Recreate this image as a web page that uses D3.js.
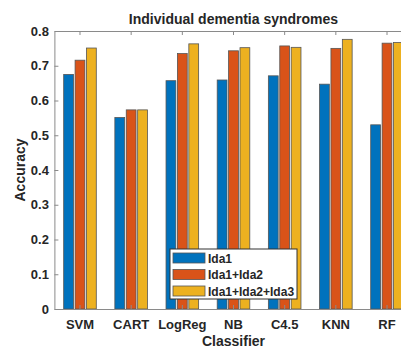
<!DOCTYPE html>
<html><head><meta charset="utf-8">
<script src="https://cdn.jsdelivr.net/npm/d3@7"></script>
<style>
html,body{margin:0;padding:0;background:#fff;overflow:hidden;}
text{font-family:"Liberation Sans",Arial,sans-serif;font-weight:bold;fill:#262626;}
</style></head>
<body><svg id="c" width="401" height="350"></svg>
<script>
const categories = ["SVM","CART","LogReg","NB","C4.5","KNN","RF"];
const seriesNames = ["Ida1","Ida1+Ida2","Ida1+Ida2+Ida3"];
const ida1 = [0.675,0.551,0.657,0.659,0.671,0.647,0.530];
const ida12 = [0.716,0.573,0.735,0.743,0.757,0.750,0.765];
const ida123 = [0.751,0.573,0.763,0.752,0.753,0.776,0.767];
const yTicks = [0,0.1,0.2,0.3,0.4,0.5,0.6,0.7,0.8];
const colors = ["#0072BD","#D95319","#EDB120"];
const series = [ida1, ida12, ida123];

const svg = d3.select("#c");
const L = 54.4, R = 412.6, T = 31, B = 309;

const x = d3.scaleBand().domain(categories).range([L, R]).paddingInner(0).paddingOuter(0);
const xs = d3.scaleBand().domain(d3.range(3)).range([-17.1, 17.1]).paddingInner(0.14).paddingOuter(0.07);
const y = d3.scaleLinear().domain([0, 0.8]).range([B, T]);

// bars
series.forEach((vals, si) => {
  svg.append("g").selectAll("rect").data(vals).join("rect")
    .attr("x", (d, i) => x(categories[i]) + x.bandwidth()/2 + xs(si))
    .attr("width", xs.bandwidth())
    .attr("y", d => y(d))
    .attr("height", d => y(0) - y(d))
    .attr("fill", colors[si])
    .attr("stroke", "#555")
    .attr("stroke-width", 0.8);
});

// axes
const axisColor = "#8a8a8a";
const yAxis = svg.append("g").attr("transform", `translate(${L},0)`)
  .call(d3.axisLeft(y).tickValues(yTicks).tickFormat(d => d === 0 ? "0" : d3.format(".1f")(d)).tickSizeInner(-4).tickSizeOuter(0).tickPadding(5.5));
yAxis.selectAll("text").style("font-size", "13px");
const xAxis = svg.append("g").attr("transform", `translate(0,${B})`)
  .call(d3.axisBottom(x).tickSizeInner(-4).tickSizeOuter(0).tickPadding(11));
xAxis.selectAll("text").style("font-size", "13px");
const xTop = svg.append("g").attr("transform", `translate(0,${T})`)
  .call(d3.axisTop(x).tickSizeInner(-4).tickSizeOuter(0).tickFormat(""));
[yAxis, xAxis, xTop].forEach(g => {
  g.selectAll("path").attr("stroke", axisColor).attr("stroke-width", 1);
  g.selectAll("line").attr("stroke", axisColor);
});
svg.append("line").attr("x1", R).attr("x2", R).attr("y1", T).attr("y2", B).attr("stroke", axisColor);

// title and labels
svg.append("text").attr("x", (L + R) / 2).attr("y", 24).attr("text-anchor", "middle")
  .style("font-size", "14px").text("Individual dementia syndromes");
svg.append("text").attr("x", (L + R) / 2).attr("y", 346).attr("text-anchor", "middle")
  .style("font-size", "14px").text("Classifier");
svg.append("text").attr("transform", `translate(25,${(T + B) / 2}) rotate(-90)`).attr("text-anchor", "middle")
  .style("font-size", "14px").text("Accuracy");

// legend
const lg = svg.append("g").attr("transform", "translate(170,249)");
lg.append("rect").attr("width", 127).attr("height", 50).attr("fill", "#fff").attr("stroke", "#333").attr("stroke-width", 1);
seriesNames.forEach((n, i) => {
  const cy = 9 + i * 16.5;
  lg.append("rect").attr("x", 3).attr("y", cy - 5).attr("width", 32).attr("height", 10)
    .attr("fill", colors[i]).attr("stroke", "#555").attr("stroke-width", 0.8);
  lg.append("text").attr("x", 38).attr("y", cy + 4.5).style("font-size", "12px").text(n);
});
</script></body></html>
